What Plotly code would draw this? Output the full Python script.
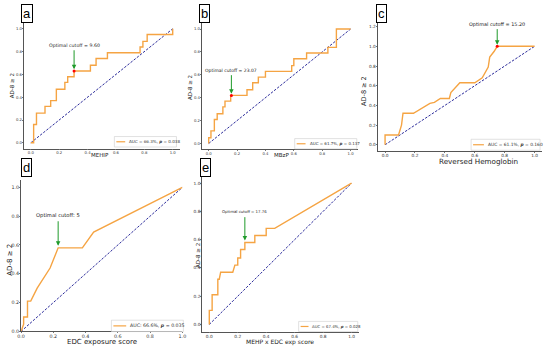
import plotly.graph_objects as go

# ---------------- data ----------------
a_fpr = [0, 0.02, 0.02, 0.04, 0.04, 0.10, 0.10, 0.14, 0.14, 0.18, 0.18, 0.24, 0.24, 0.26, 0.26, 0.305, 0.305,
         0.42, 0.42, 0.46, 0.46, 0.54, 0.54, 0.77, 0.77, 0.79, 0.79, 0.82, 0.82, 1.0, 1.0]
a_tpr = [0, 0, 0.16, 0.16, 0.26, 0.26, 0.32, 0.32, 0.37, 0.37, 0.47, 0.47, 0.53, 0.53, 0.58, 0.58, 0.63,
         0.63, 0.68, 0.68, 0.74, 0.74, 0.79, 0.79, 0.84, 0.84, 0.89, 0.89, 0.95, 0.95, 1.0]
b_fpr = [0, 0, 0.016, 0.016, 0.04, 0.04, 0.06, 0.06, 0.10, 0.10, 0.115, 0.115, 0.155, 0.155, 0.27, 0.27,
         0.31, 0.31, 0.35, 0.35, 0.40, 0.40, 0.585, 0.585, 0.60, 0.60, 0.69, 0.69, 0.84, 0.84, 0.90, 0.90, 1.0]
b_tpr = [0, 0.05, 0.05, 0.11, 0.11, 0.21, 0.21, 0.26, 0.26, 0.32, 0.32, 0.37, 0.37, 0.42, 0.42, 0.47,
         0.47, 0.53, 0.53, 0.58, 0.58, 0.63, 0.63, 0.68, 0.68, 0.74, 0.74, 0.79, 0.79, 0.84, 0.84, 1.0, 1.0]
c_fpr = [0, 0, 0.09, 0.11, 0.12, 0.19, 0.30, 0.33, 0.37, 0.43, 0.44, 0.50, 0.60, 0.65, 0.69, 0.70, 0.73, 0.75, 1.0]
c_tpr = [0, 0.10, 0.10, 0.20, 0.32, 0.32, 0.42, 0.43, 0.47, 0.47, 0.53, 0.63, 0.63, 0.68, 0.79, 0.89, 0.95, 1.0, 1.0]
d_fpr = [0, 0.016, 0.016, 0.04, 0.04, 0.06, 0.10, 0.18, 0.23, 0.38, 0.45, 1.0]
d_tpr = [0, 0.05, 0.10, 0.10, 0.21, 0.21, 0.30, 0.44, 0.58, 0.58, 0.69, 1.0]
e_fpr = [0, 0, 0.02, 0.02, 0.06, 0.06, 0.07, 0.08, 0.165, 0.18, 0.20, 0.20, 0.22, 0.22, 0.25, 0.25,
         0.32, 0.32, 0.40, 0.40, 0.46, 1.0]
e_tpr = [0, 0.10, 0.10, 0.21, 0.21, 0.32, 0.32, 0.37, 0.37, 0.42, 0.42, 0.47, 0.47, 0.53, 0.53, 0.58,
         0.58, 0.63, 0.63, 0.68, 0.68, 1.0]

panel_letters = ["a", "b", "c", "d", "e"]
x_titles = ["MEHIP", "MBzP", "Reversed Hemoglobin", "EDC exposure score", "MEHP x EDC exp score"]
y_title = "AD-8 \u2265 2"
auc_labels = ["AUC = 66.3%, <b><i>p</i></b> = 0.038",
              "AUC = 61.7%, <b><i>p</i></b> = 0.137",
              "AUC = 61.1%, <b><i>p</i></b> = 0.160",
              "AUC: 66.6%, <b><i>p</i></b> = 0.035",
              "AUC = 67.4%, <b><i>p</i></b> = 0.028"]
cutoff_labels = ["Optimal cutoff = 9.60", "Optimal cutoff = 23.07", "Optimal cutoff = 15.20",
                 "Optimal cutoff: 5", "Optimal cutoff = 17.76"]
cut_pts = [(0.305, 0.63), (0.16, 0.42), (0.75, 1.0), (0.23, 0.58), (0.25, 0.58)]
arrow_tail_y = [0.825, 0.61, 1.19, 0.775, 0.77]
label_y = [0.855, 0.64, 1.225, 0.805, 0.80]
show_red = [True, True, True, False, False]
y_ticks_c = [0, 0.2, 0.4, 0.6, 0.8, 1.0, 1.2]
ticks = [0, 0.2, 0.4, 0.6, 0.8, 1.0]

curves = [(a_fpr, a_tpr), (b_fpr, b_tpr), (c_fpr, c_tpr), (d_fpr, d_tpr), (e_fpr, e_tpr)]

# ---------------- layout geometry (pixels) ----------------
W, H = 550, 350
def PX(x): return x / W
def PY(y): return 1 - y / H

boxes = [(20, 178.4, 23.3, 149.8), (200.5, 358.9, 23.5, 150.5), (379.1, 546.0, 19.9, 152.0),
         (17.3, 181.0, 181.7, 334.3), (201.1, 359.9, 177.6, 334.4)]
xranges = [[-0.05, 1.05], [-0.05, 1.05], [-0.05, 1.05], [0, 1], [-0.05, 1.05]]
yranges = [[-0.05, 1.05], [-0.05, 1.05], [-0.06, 1.27], [0, 1.05], [-0.05, 1.05]]
tick_fs = [3.8, 3.8, 4.3, 4.8, 4.3]
xt_pos = [(97, 156.5, 5.5), (281.5, 156.5, 5.5), (481, 163, 7.2), (99, 344.5, 7), (280, 344.5, 6)]
yt_pos = [(8, 86, 5.5), (188.5, 88, 5.5), (366, 92, 6.5), (6, 262, 7), (197, 258, 5.5)]
cut_fs = [4.7, 4.5, 4.9, 5.2, 3.9]
leg_fs = [4.1, 4.0, 4.4, 4.7, 3.9]
legends = [(112, 125, 175, 143), (295, 308, 358, 145), (474, 489, 544, 146),
           (109, 126, 182, 328.7), (299, 311, 359, 329.3)]
letter_pos = [(23, 14), (203.5, 14), (383.5, 14), (23, 169), (204, 169)]

ORANGE = "#F5A443"
NAVY = "#2B2B9A"
FONT = "DejaVu Sans"

fig = go.Figure()
layout = dict(width=W, height=H, margin=dict(l=0, r=0, t=0, b=0), paper_bgcolor="white",
              plot_bgcolor="white", showlegend=False, font=dict(family=FONT, color="#222"))
annotations, shapes = [], []

for i in range(5):
    sfx = "" if i == 0 else str(i + 1)
    xa, ya = "x" + sfx, "y" + sfx
    l, r, t, b = boxes[i]
    fpr, tpr = curves[i]
    fig.add_trace(go.Scatter(x=[0, 1], y=[0, 1], mode="lines", xaxis=xa, yaxis=ya,
                             line=dict(color=NAVY, width=1.0, dash="2.5px,1.5px")))
    fig.add_trace(go.Scatter(x=fpr, y=tpr, mode="lines", xaxis=xa, yaxis=ya,
                             line=dict(color=ORANGE, width=1.4)))
    cx, cy = cut_pts[i]
    if show_red[i]:
        fig.add_trace(go.Scatter(x=[cx], y=[cy], mode="markers", xaxis=xa, yaxis=ya,
                                 marker=dict(color="red", size=3)))
    common = dict(showgrid=False, zeroline=False, showline=True, linecolor="#555", linewidth=0.8,
                  ticks="outside", ticklen=1, tickcolor="#777", tickwidth=0.5, ticklabelstandoff=-1,
                  tickfont=dict(size=tick_fs[i], color="#333", family=FONT))
    layout["xaxis" + sfx] = dict(domain=[PX(l), PX(r)], range=xranges[i], anchor=ya,
                                 tickvals=ticks, tickformat=".1f", **common)
    layout["yaxis" + sfx] = dict(domain=[PY(b), PY(t)], range=yranges[i], anchor=xa,
                                 tickvals=y_ticks_c if i == 2 else ticks, tickformat=".1f", **common)
    ctr = dict(xanchor="center", yanchor="middle", showarrow=False, xref="paper", yref="paper")
    tx, ty, ts = xt_pos[i]
    annotations.append(dict(x=PX(tx), y=PY(ty), text=x_titles[i],
                            font=dict(size=ts, color="#222"), **ctr))
    tx, ty, ts = yt_pos[i]
    annotations.append(dict(x=PX(tx), y=PY(ty), text=y_title, textangle=-90,
                            font=dict(size=ts, color="#222"), **ctr))
    annotations.append(dict(x=cx, y=cy + 0.015, ax=cx, ay=arrow_tail_y[i], xref=xa, yref=ya,
                            axref=xa, ayref=ya, text="", showarrow=True, arrowhead=2,
                            arrowsize=0.9, arrowwidth=1.0, arrowcolor="#1f9a2a"))
    annotations.append(dict(x=cx, y=label_y[i], xref=xa, yref=ya, text=cutoff_labels[i],
                            xanchor="center", yanchor="middle",
                            showarrow=False, font=dict(size=cut_fs[i], color="#222")))
    lx0, lts, lx1, lyc = legends[i]
    hh = leg_fs[i] * 0.8 + 2
    shapes.append(dict(type="rect", xref="paper", yref="paper", x0=PX(lx0), x1=PX(lx1),
                       y0=PY(lyc + hh), y1=PY(lyc - hh), line=dict(color="#cccccc", width=0.6),
                       fillcolor="rgba(255,255,255,0.85)", layer="above"))
    shapes.append(dict(type="line", xref="paper", yref="paper", x0=PX(lx0 + 2),
                       x1=PX(lts - 2), y0=PY(lyc), y1=PY(lyc),
                       line=dict(color=ORANGE, width=1.2), layer="above"))
    annotations.append(dict(x=PX(lts), y=PY(lyc), xref="paper", yref="paper",
                            xanchor="left", yanchor="middle", text=auc_labels[i], showarrow=False,
                            font=dict(size=leg_fs[i], color="#333")))
    lxp, lyp = letter_pos[i]
    annotations.append(dict(x=PX(lxp), y=PY(lyp), text=panel_letters[i],
                            font=dict(size=13, color="black", family="Liberation Sans"),
                            bordercolor="black", borderwidth=1, borderpad=1, bgcolor="white", **ctr))

layout["annotations"] = annotations
layout["shapes"] = shapes
fig.update_layout(**layout)
fig.write_html("out.html", config={"displayModeBar": False},
               post_script="document.body.style.margin='0';document.body.style.overflow='hidden';")
